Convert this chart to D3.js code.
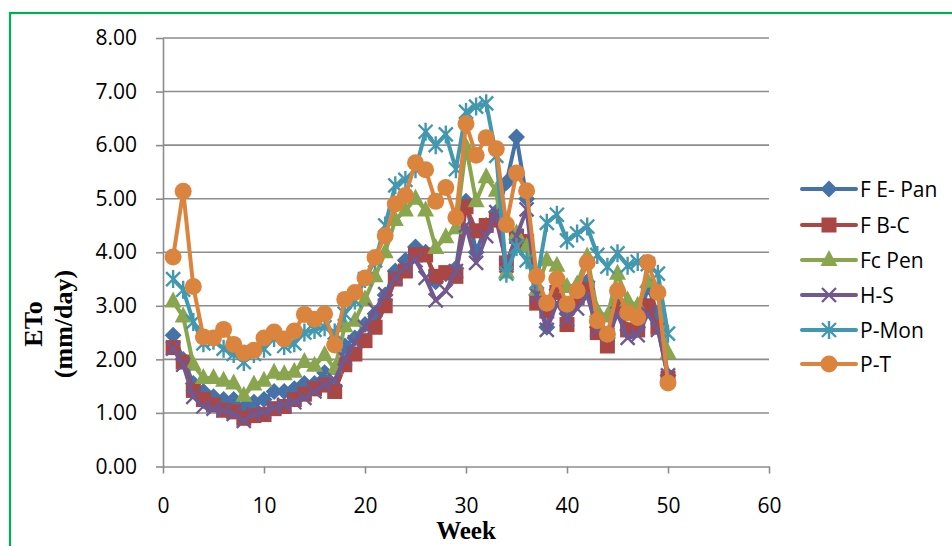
<!DOCTYPE html>
<html>
<head>
<meta charset="utf-8">
<script src="https://cdn.jsdelivr.net/npm/d3@7"></script>
<style>
body { margin: 0; background: #fff; }
svg { display: block; }
</style>
</head>
<body>
<div id="chart"></div>
<script>
const weeks = [1,2,3,4,5,6,7,8,9,10,11,12,13,14,15,16,17,18,19,20,21,22,23,24,25,26,27,28,29,30,31,32,33,34,35,36,37,38,39,40,41,42,43,44,45,46,47,48,49,50];

const fePan = [2.45,2.00,1.55,1.40,1.30,1.25,1.25,1.10,1.20,1.25,1.40,1.40,1.45,1.55,1.55,1.75,1.50,2.25,2.40,2.65,2.85,3.20,3.65,3.85,4.10,4.00,3.45,3.60,3.70,4.95,4.00,4.50,4.75,5.30,6.15,5.00,3.20,2.60,3.30,2.85,3.10,3.45,2.60,2.40,3.05,2.55,2.60,3.35,2.85,1.70];
const fbc = [2.22,1.95,1.42,1.25,1.15,1.05,1.02,0.90,0.95,0.97,1.08,1.12,1.25,1.35,1.45,1.52,1.40,1.90,2.10,2.35,2.60,3.00,3.50,3.65,3.95,3.95,3.55,3.62,3.55,4.85,4.40,4.50,4.60,3.80,4.30,4.20,3.05,2.90,3.25,2.65,3.15,3.30,2.50,2.25,2.95,2.55,2.55,3.00,2.60,1.65];
const fcPen = [3.08,2.80,1.90,1.65,1.65,1.60,1.55,1.32,1.53,1.60,1.75,1.72,1.77,1.95,1.88,2.08,1.82,2.62,2.72,3.12,3.55,4.00,4.60,4.78,5.00,4.78,4.08,4.28,4.45,5.97,4.95,5.40,5.15,3.62,4.35,4.10,3.30,3.85,3.75,3.35,3.40,3.92,2.90,2.80,3.60,3.10,3.00,3.45,3.30,2.12];
const hs = [2.20,1.90,1.30,1.12,1.08,1.05,0.98,0.85,0.98,1.02,1.10,1.15,1.20,1.28,1.40,1.52,1.62,2.02,2.32,2.60,2.92,3.22,3.52,3.72,3.85,3.52,3.10,3.28,3.65,4.50,3.80,4.30,4.75,3.75,4.30,4.80,3.20,2.55,3.05,2.75,2.95,3.20,2.55,2.45,2.85,2.40,2.45,2.85,2.55,1.70];
const pMon = [3.50,3.30,2.70,2.30,2.35,2.20,2.10,1.95,2.10,2.20,2.40,2.25,2.30,2.50,2.55,2.60,2.50,2.85,3.10,3.50,3.85,4.50,5.25,5.35,5.55,6.25,6.00,6.20,5.55,6.62,6.72,6.78,5.80,3.60,4.10,3.85,3.45,4.55,4.70,4.22,4.35,4.48,3.95,3.73,3.98,3.75,3.82,3.78,3.60,2.48];
const pt = [3.91,5.14,3.36,2.42,2.40,2.56,2.28,2.12,2.17,2.40,2.51,2.38,2.53,2.84,2.75,2.85,2.27,3.12,3.25,3.52,3.90,4.31,4.90,5.06,5.67,5.54,4.95,5.21,4.65,6.40,5.81,6.14,5.93,4.52,5.48,5.15,3.55,3.05,3.50,3.03,3.28,3.81,2.72,2.47,3.28,2.87,2.78,3.81,3.25,1.56];

const seriesNames = ['F E- Pan', 'F B-C', 'Fc Pen', 'H-S', 'P-Mon', 'P-T'];
const yTicks = [0, 1, 2, 3, 4, 5, 6, 7, 8];
const xTicks = [0, 10, 20, 30, 40, 50, 60];

const width = 952;
const height = 546;
const leftEdge = 163;
const rightEdge = 769;
const topEdge = 38;
const bottomEdge = 466.5;

const colors = ['#4572A7', '#AA4643', '#89A54E', '#71588F', '#4198AF', '#DB843D'];
const shapes = ['diamond', 'square', 'triangle', 'x', 'asterisk', 'circle'];
const allSeries = [fePan, fbc, fcPen, hs, pMon, pt];

const svg = d3.select('#chart').append('svg').attr('width', width).attr('height', height);

// green frame round the chart
svg.append('rect').attr('x', 10).attr('y', 13).attr('width', 980).attr('height', 600)
  .attr('fill', 'none').attr('stroke', '#00B050').attr('stroke-width', 2.2);

const xScale = d3.scaleLinear().domain([0, 60]).range([leftEdge, rightEdge]);
const yScale = d3.scaleLinear().domain([0, 8]).range([bottomEdge, topEdge]);

// gridlines
svg.append('g').selectAll('line').data(yTicks.slice(1)).enter().append('line')
  .attr('x1', leftEdge).attr('x2', rightEdge)
  .attr('y1', d => yScale(d)).attr('y2', d => yScale(d))
  .attr('stroke', '#8C8C8C').attr('stroke-width', 1.6);

function yAxis(g) {
  g.attr('transform', `translate(${leftEdge},0)`)
    .call(d3.axisLeft(yScale).tickValues(yTicks).tickFormat(d3.format('.2f')).tickSize(7).tickSizeOuter(0).tickPadding(19));
}
function xAxis(g) {
  g.attr('transform', `translate(0,${bottomEdge})`)
    .call(d3.axisBottom(xScale).tickValues(xTicks).tickSize(7).tickSizeOuter(0).tickPadding(25));
}
const gy = svg.append('g').call(yAxis);
const gx = svg.append('g').call(xAxis);
[gx, gy].forEach(g => {
  g.select('.domain').attr('stroke', '#8C8C8C').attr('stroke-width', 1.6);
  g.selectAll('.tick line').attr('stroke', '#8C8C8C').attr('stroke-width', 1.6);
  g.selectAll('text').attr('fill', '#000').attr('font-family', '"Open Sans", sans-serif').attr('font-size', '21px');
});

function drawMarker(g, shape, color, cx, cy) {
  if (shape === 'diamond') {
    g.append('path').attr('d', 'M0,-8.5L8.5,0L0,8.5L-8.5,0Z').attr('fill', color)
      .attr('transform', `translate(${cx},${cy})`);
  } else if (shape === 'square') {
    g.append('rect').attr('x', cx - 7.5).attr('y', cy - 7.5).attr('width', 15).attr('height', 15).attr('fill', color);
  } else if (shape === 'triangle') {
    g.append('path').attr('d', 'M0,-10L8.5,6L-8.5,6Z').attr('fill', color)
      .attr('transform', `translate(${cx},${cy})`);
  } else if (shape === 'x') {
    g.append('path').attr('d', 'M-7,-7L7,7M-7,7L7,-7').attr('stroke', color).attr('stroke-width', 2.4)
      .attr('fill', 'none').attr('transform', `translate(${cx},${cy})`);
  } else if (shape === 'asterisk') {
    g.append('path').attr('d', 'M-7,-7L7,7M-7,7L7,-7M0,-9L0,9').attr('stroke', color).attr('stroke-width', 2.4)
      .attr('fill', 'none').attr('transform', `translate(${cx},${cy})`);
  } else {
    g.append('circle').attr('cx', cx).attr('cy', cy).attr('r', 8.5).attr('fill', color);
  }
}

const line = d3.line().x((d, i) => xScale(weeks[i])).y(d => yScale(d));

// series, drawn in order so P-T sits on top
allSeries.forEach((values, s) => {
  const g = svg.append('g');
  g.append('path').datum(values).attr('d', line).attr('fill', 'none')
    .attr('stroke', colors[s]).attr('stroke-width', 4).attr('stroke-linejoin', 'round');
  values.forEach((v, i) => drawMarker(g, shapes[s], colors[s], xScale(weeks[i]), yScale(v)));
});

// legend
const legendRows = [189, 225, 260, 295, 330, 364];
seriesNames.forEach((name, s) => {
  const g = svg.append('g');
  const ly = legendRows[s];
  g.append('line').attr('x1', 802).attr('x2', 856).attr('y1', ly).attr('y2', ly)
    .attr('stroke', colors[s]).attr('stroke-width', 4).attr('stroke-linecap', 'round');
  drawMarker(g, shapes[s], colors[s], 829, ly);
  g.append('text').attr('x', 860).attr('y', ly).attr('dy', '0.36em').text(name)
    .attr('font-family', '"Open Sans", sans-serif').attr('font-size', '21px').attr('fill', '#000');
});

// axis titles
svg.append('text').attr('x', 466).attr('y', 539).attr('text-anchor', 'middle').text('Week')
  .attr('font-family', '"Liberation Serif", serif').attr('font-weight', 'bold').attr('font-size', '25px');
svg.append('text').attr('transform', 'translate(42,324) rotate(-90)').attr('text-anchor', 'middle').text('ETo')
  .attr('font-family', '"Liberation Serif", serif').attr('font-weight', 'bold').attr('font-size', '26px');
svg.append('text').attr('transform', 'translate(72,324) rotate(-90)').attr('text-anchor', 'middle').text('(mm/day)')
  .attr('font-family', '"Liberation Serif", serif').attr('font-weight', 'bold').attr('font-size', '26px');
</script>
</body>
</html>
